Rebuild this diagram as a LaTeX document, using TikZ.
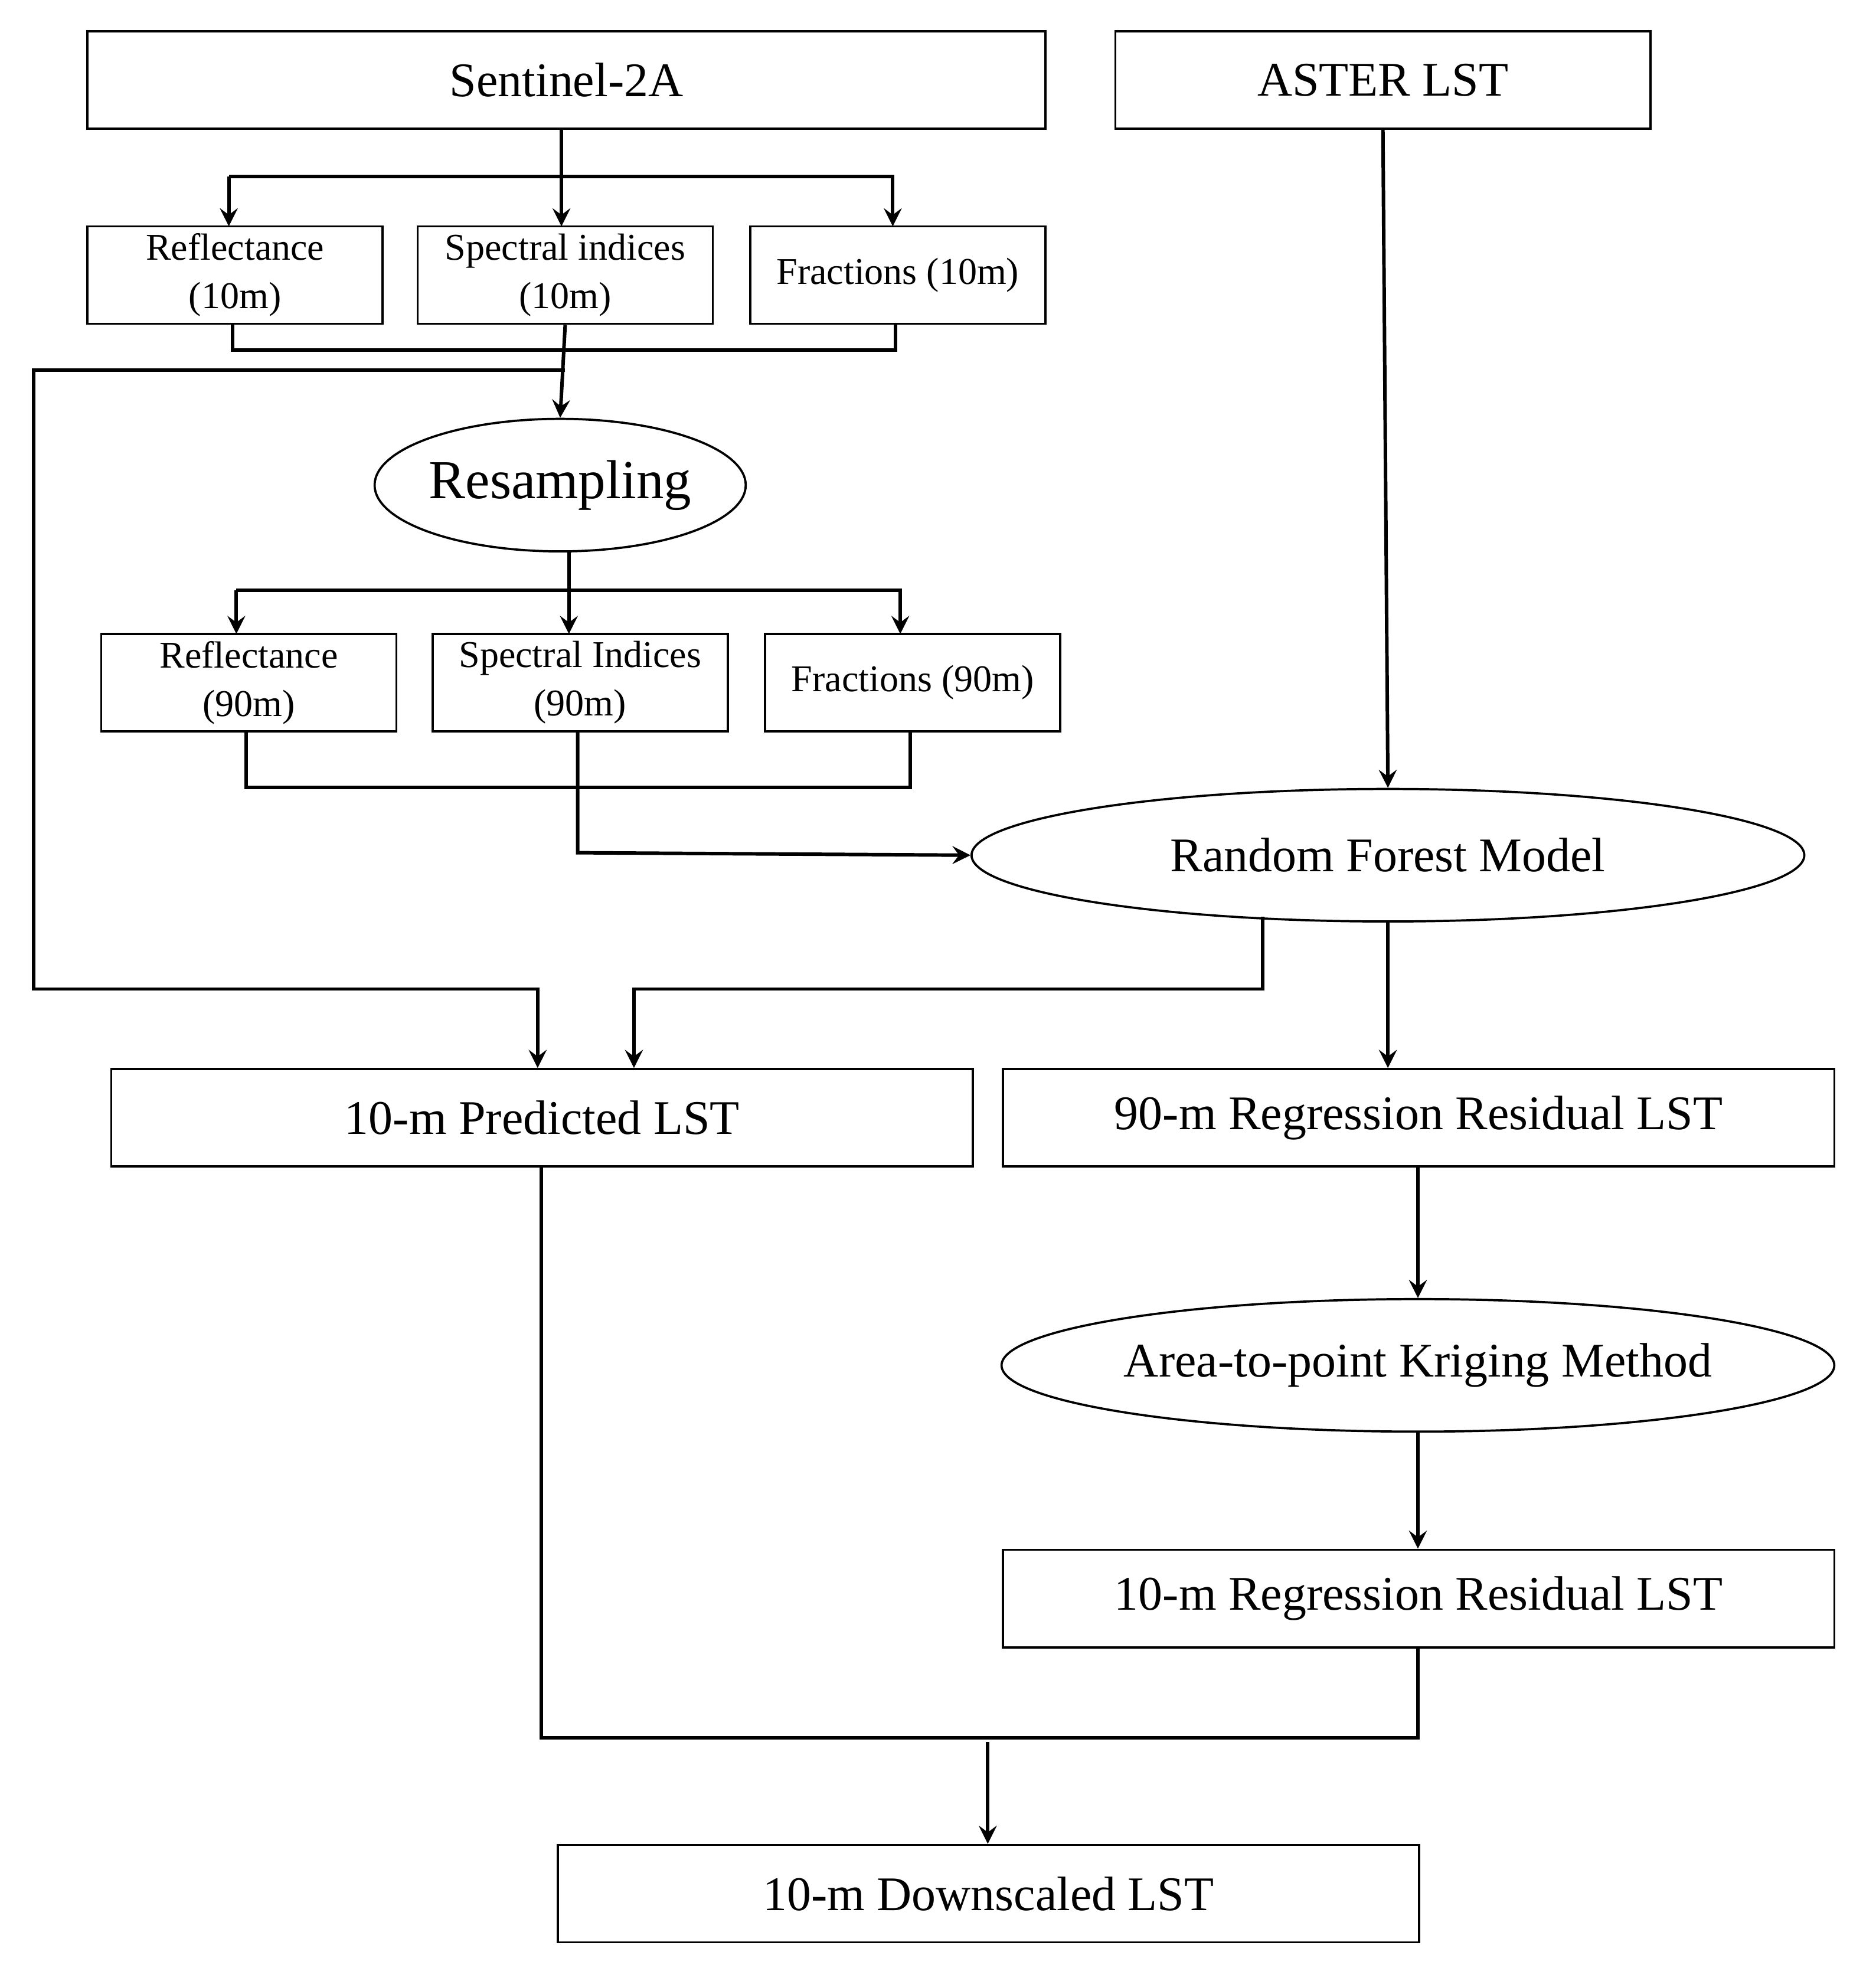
\documentclass[tikz,border=0pt]{standalone}
\usepackage{fontspec}
\setmainfont{Liberation Serif}
\usetikzlibrary{arrows,shapes.geometric}
\tikzset{
  box/.style={draw,line width=0.5pt,inner sep=1pt,align=center,font=\fontsize{11pt}{12pt}\selectfont},
  sbox/.style={box,minimum width=2.36cm,minimum height=0.78cm,font=\fontsize{8.6pt}{11pt}\selectfont},
  oval/.style={draw,line width=0.5pt,ellipse,inner sep=0pt,font=\fontsize{11pt}{12pt}\selectfont},
  flow/.style={line width=0.8pt},
  arr/.style={flow,-stealth}
}
\begin{document}
\begin{tikzpicture}
  \useasboundingbox (0,0) rectangle (15,-15.74);

  \node[box,minimum width=7.66cm,minimum height=0.78cm] (s2) at (4.53,-0.64) {Sentinel-2A};
  \node[box,minimum width=4.28cm,minimum height=0.78cm] (aster) at (11.06,-0.64) {ASTER LST};

  \node[sbox] (r10) at (1.88,-2.20) {Reflectance\\(10m)};
  \node[sbox] (s10) at (4.52,-2.20) {Spectral indices\\(10m)};
  \node[sbox] (f10) at (7.18,-2.20) {Fractions (10m)};

  \node[oval,minimum width=2.46cm,minimum height=1.06cm,font=\fontsize{12.5pt}{13pt}\selectfont] (res) at (4.48,-3.88) {Resampling};

  \node[sbox] (r90) at (1.99,-5.46) {Reflectance\\(90m)};
  \node[sbox] (s90) at (4.64,-5.46) {Spectral Indices\\(90m)};
  \node[sbox] (f90) at (7.30,-5.46) {Fractions (90m)};

  \node[oval,minimum width=6.66cm,minimum height=1.06cm] (rf) at (11.10,-6.84) {Random Forest Model};

  \node[box,minimum width=6.89cm,minimum height=0.78cm] (pred) at (4.335,-8.94) {10-m Predicted LST};
  \node[box,minimum width=6.65cm,minimum height=0.78cm] (res90) at (11.345,-8.94) {90-m Regression Residual LST};

  \node[oval,minimum width=6.66cm,minimum height=1.06cm] (atp) at (11.34,-10.92) {Area-to-point Kriging Method};
  \node[box,minimum width=6.65cm,minimum height=0.78cm] (res10) at (11.345,-12.785) {10-m Regression Residual LST};
  \node[box,minimum width=6.89cm,minimum height=0.78cm] (down) at (7.905,-15.145) {10-m Downscaled LST};

  % Sentinel-2A to 10 m products
  \draw[flow] (s2.south -| 4.49,0) -- (4.49,-1.41);
  \draw[arr] (1.83,-1.41) -- (1.83,-1.81);
  \draw[arr] (1.83,-1.41) -- (7.14,-1.41) -- (7.14,-1.81);
  \draw[arr] (4.49,-1.41) -- (4.49,-1.81);

  % merge and resample
  \draw[flow] (r10.south -| 1.86,0) -- (1.86,-2.80) -- (7.16,-2.80) -- (f10.south -| 7.16,0);
  \draw[arr] (s10.south) -- (res.north);
  \draw[arr] (4.52,-2.96) -- (0.27,-2.96) -- (0.27,-7.91) -- (4.30,-7.91) -- (pred.north -| 4.30,0);

  % resampling to 90 m products
  \draw[flow] (res.south -| 4.55,0) -- (4.55,-4.72);
  \draw[arr] (1.89,-4.72) -- (1.89,-5.07);
  \draw[arr] (1.89,-4.72) -- (7.20,-4.72) -- (7.20,-5.07);
  \draw[arr] (4.55,-4.72) -- (4.55,-5.07);

  \draw[flow] (r90.south -| 1.97,0) -- (1.97,-6.30) -- (7.28,-6.30) -- (f90.south -| 7.28,0);
  \draw[arr] (s90.south -| 4.62,0) -- (4.62,-6.82) -- (rf.west);

  \draw[arr] (aster.south) -- (rf.north);

  % random forest outputs
  \draw[arr] (10.10,-7.33) -- (10.10,-7.91) -- (5.07,-7.91) -- (pred.north -| 5.07,0);
  \draw[arr] (rf.south) -- (res90.north -| rf.south);

  \draw[arr] (res90.south -| atp.north) -- (atp.north);
  \draw[arr] (atp.south) -- (res10.north -| atp.south);

  % combine
  \draw[flow] (pred.south -| 4.33,0) -- (4.33,-13.90) -- (11.34,-13.90) -- (res10.south -| 11.34,0);
  \draw[arr] (7.90,-13.93) -- (down.north -| 7.90,0);
\end{tikzpicture}
\end{document}
